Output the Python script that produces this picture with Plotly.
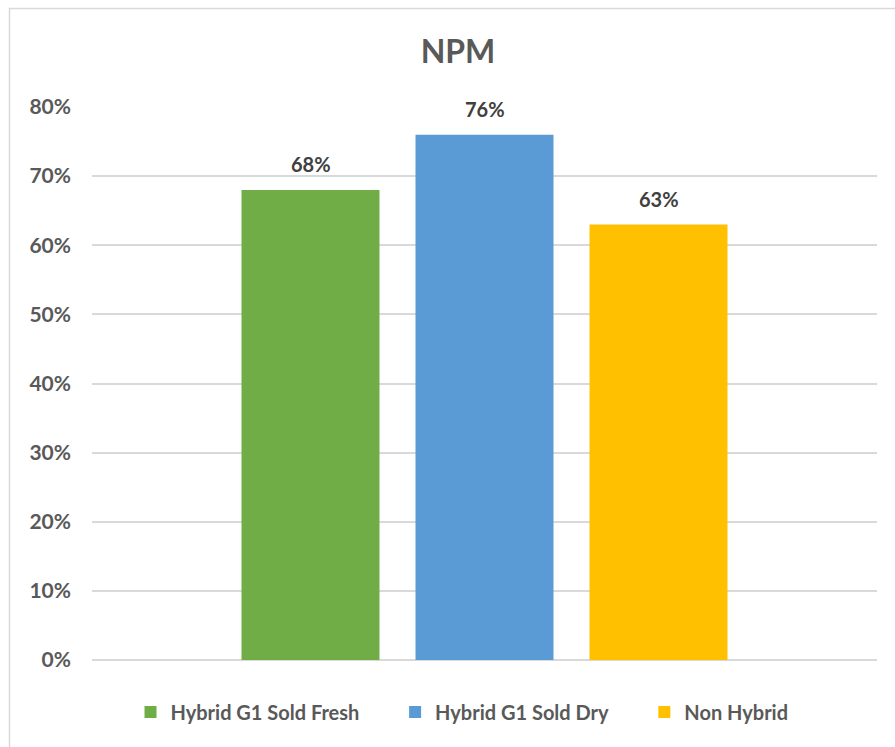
import plotly.graph_objects as go

# NPM by product type
series_names = ["Hybrid G1 Sold Fresh", "Hybrid G1 Sold Dry", "Non Hybrid"]
npm_values = [0.68, 0.76, 0.63]
bar_colors = ["#70AD47", "#5B9BD5", "#FFC000"]
tick_values = [0, 0.1, 0.2, 0.3, 0.4, 0.5, 0.6, 0.7, 0.8]
tick_labels = ["0%", "10%", "20%", "30%", "40%", "50%", "60%", "70%", "80%"]

W, H = 895, 747
L, R, T, B = 92, 18, 107, 87

FONT = "Lato, Calibri, Carlito, sans-serif"
AXIS_GRAY = "#595959"
LABEL_GRAY = "#404040"
GRID = "#d9d9d9"
PAD = "\u00a0" * 6  # extra spacing between legend entries

fig = go.Figure()
n = len(series_names)
for i, (name, val, col) in enumerate(zip(series_names, npm_values, bar_colors)):
    legend_name = f"<b>{name}</b>" + (PAD if i < n - 1 else "")
    fig.add_trace(go.Bar(
        x=[i], y=[val], name=legend_name, width=0.793,
        marker=dict(color=col, line=dict(width=0)),
        hoverinfo="skip",
    ))
    fig.add_annotation(
        x=i, y=val, text=f"<b>{val:.0%}</b>", showarrow=False,
        xref="x", yref="y", yanchor="bottom", yshift=12,
        font=dict(family=FONT, size=20, color=LABEL_GRAY),
    )

pw, ph = W - L - R, H - T - B
def px_x(p):
    return (p - L) / pw
def px_y(p):
    return (H - B - p) / ph

# outer chart border
fig.add_shape(type="rect", xref="paper", yref="paper",
              x0=px_x(9.5), x1=px_x(905), y0=px_y(752), y1=px_y(8.5),
              line=dict(color=GRID, width=1.5), fillcolor="rgba(0,0,0,0)",
              layer="below")

fig.update_layout(
    width=W, height=H,
    margin=dict(l=L, r=R, t=T, b=B),
    paper_bgcolor="white", plot_bgcolor="white",
    title=dict(text="<b>NPM</b>", x=458 / W, xref="container", xanchor="center",
               y=1 - 52 / H, yref="container", yanchor="middle",
               font=dict(family=FONT, size=32, color=AXIS_GRAY)),
    showlegend=True,
    legend=dict(orientation="h", x=px_x(462), xanchor="center",
                y=px_y(712), yanchor="middle",
                font=dict(family=FONT, size=20, color=AXIS_GRAY),
                itemclick=False, traceorder="normal"),
    xaxis=dict(range=[-1.2557, 3.2557], showticklabels=False, showgrid=False,
               zeroline=False, showline=False, fixedrange=True),
    yaxis=dict(range=[0, 0.8], tickvals=tick_values, ticktext=[f"<b>{t}</b>" for t in tick_labels],
               showgrid=True, gridcolor=GRID, gridwidth=1.5,
               zeroline=True, zerolinecolor=GRID, zerolinewidth=1.5,
               showline=False, ticks="", ticklabelstandoff=20,
               tickfont=dict(family=FONT, size=21, color=AXIS_GRAY),
               fixedrange=True),
)

fig.write_html("out.html")
